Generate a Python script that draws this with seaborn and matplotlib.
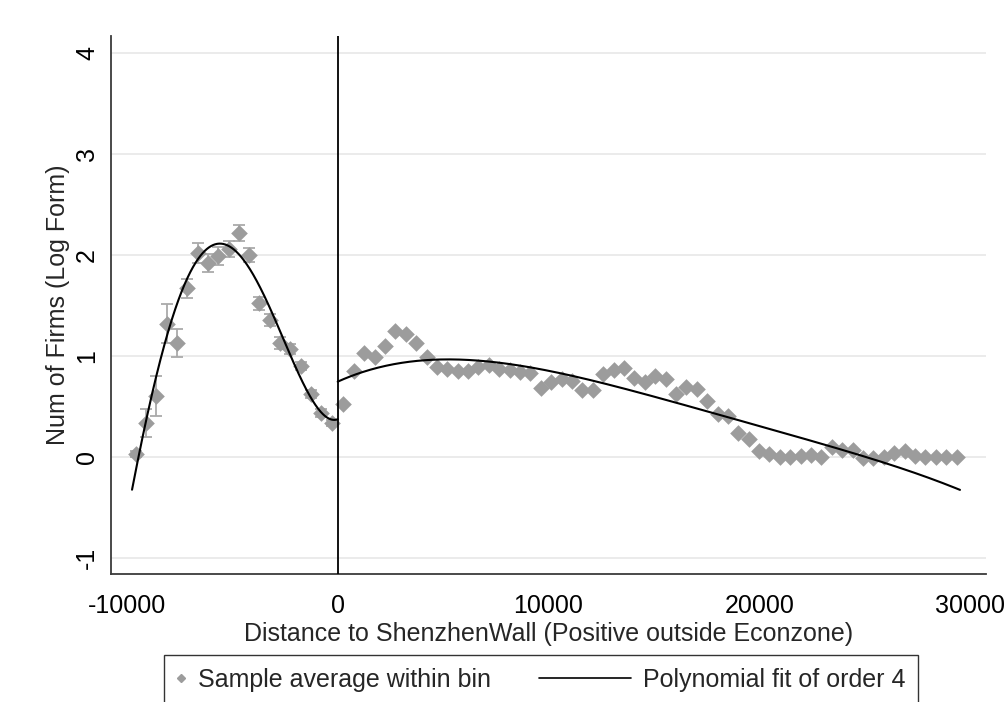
import numpy as np
import pandas as pd
import matplotlib
matplotlib.use("Agg")
import matplotlib.pyplot as plt
import seaborn as sns
from matplotlib.lines import Line2D
from matplotlib.legend_handler import HandlerBase

# ---- data ----
left_x = [-9590, -9100, -8610, -8120, -7630, -7140, -6650, -6160, -5670, -5180,
          -4690, -4200, -3710, -3220, -2730, -2240, -1750, -1260, -770, -280]
left_y = [0.03, 0.335, 0.605, 1.32, 1.13, 1.67, 2.02, 1.92, 1.99, 2.06,
          2.22, 2.00, 1.52, 1.36, 1.13, 1.07, 0.90, 0.625, 0.44, 0.34]
left_err = [0.03, 0.14, 0.20, 0.19, 0.135, 0.095, 0.10, 0.085, 0.09, 0.08,
            0.08, 0.07, 0.065, 0.06, 0.06, 0.05, 0.04, 0.04, 0.04, 0.03]

right_x = [270, 763, 1256, 1749, 2242, 2735, 3228, 3721, 4214, 4707,
           5200, 5693, 6186, 6679, 7172, 7665, 8158, 8651, 9144, 9637,
           10130, 10623, 11116, 11609, 12102, 12595, 13088, 13581, 14074, 14567,
           15060, 15553, 16046, 16539, 17032, 17525, 18018, 18511, 19004, 19497,
           19990, 20483, 20976, 21469, 21962, 22455, 22948, 23441, 23934, 24427,
           24920, 25413, 25906, 26399, 26892, 27385, 27878, 28371, 28864, 29357]
right_y = [0.53, 0.85, 1.03, 0.99, 1.10, 1.25, 1.22, 1.13, 0.99, 0.89,
           0.87, 0.85, 0.85, 0.89, 0.91, 0.87, 0.86, 0.84, 0.83, 0.68,
           0.74, 0.77, 0.75, 0.66, 0.66, 0.82, 0.86, 0.88, 0.78, 0.74,
           0.80, 0.77, 0.625, 0.69, 0.67, 0.56, 0.43, 0.41, 0.24, 0.18,
           0.06, 0.03, 0.005, 0.0, 0.01, 0.02, 0.005, 0.10, 0.07, 0.07,
           -0.01, -0.01, 0.005, 0.045, 0.065, 0.01, 0.0, 0.0, 0.0, 0.0]

# points read on the fitted order-4 curves
fitL_x = [-9756, -8083, -7087, -5583, -4127, -2737, -1708, -731, 0]
fitL_y = [-0.324, 1.225, 1.785, 2.089, 1.884, 1.225, 0.764, 0.434, 0.375]
fitR_x = [0, 1215, 2800, 4222, 5958, 7225, 9280, 11337, 14815, 17979, 22405, 25569, 29520]
fitR_y = [0.747, 0.83, 0.94, 0.968, 0.96, 0.955, 0.88, 0.764, 0.615, 0.45, 0.163, -0.044, -0.318]

y_ticks = [-1, 0, 1, 2, 3, 4]
x_ticks = [-10000, 0, 10000, 20000, 30000]
x_label = "Distance to ShenzhenWall (Positive outside Econzone)"
y_label = "Num of Firms (Log Form)"
leg_labels = ["Sample average within bin", "Polynomial fit of order 4"]

# ---- styling ----
sns.set_style("white")
plt.rcParams["font.family"] = ["Liberation Sans", "DejaVu Sans"]
FS = 18
PT_GRAY = "#9c9c9c"
ERR_GRAY = "#aaaaaa"
SPINE = "#3a3a3a"

W, H = 1007, 702
fig = plt.figure(figsize=(W / 100, H / 100), dpi=100)
ax = fig.add_axes([111 / W, 1 - 574 / H, (986 - 111) / W, (574 - 36) / H])

bins = pd.DataFrame({"x": left_x + right_x, "y": left_y + right_y})

def poly_curve(xs, ys, n=400):
    c = np.polyfit(xs, ys, 4)
    gx = np.linspace(min(xs), max(xs), n)
    return pd.DataFrame({"x": gx, "y": np.polyval(c, gx)})

fitL = poly_curve(fitL_x, fitL_y)
fitR = poly_curve(fitR_x, fitR_y)

# gridlines
for t in y_ticks:
    ax.axhline(t, color="#e8e8e8", lw=1.2, zorder=0)

ax.errorbar(left_x, left_y, yerr=left_err, fmt="none", ecolor=ERR_GRAY,
            elinewidth=1.3, capsize=4, capthick=1.3, zorder=2)
sns.scatterplot(data=bins, x="x", y="y", marker="D", s=72, color=PT_GRAY,
                linewidth=0, ax=ax, zorder=3, legend=False)
sns.lineplot(data=fitL, x="x", y="y", color="black", lw=1.5, ax=ax, zorder=4, legend=False)
sns.lineplot(data=fitR, x="x", y="y", color="black", lw=1.5, ax=ax, zorder=4, legend=False)
ax.axvline(0, color="black", lw=1.3, zorder=5)

ax.set_xlim(-10754, 30754)
ax.set_ylim(-1.155, 4.165)
ax.set_xticks(x_ticks)
ax.set_yticks(y_ticks)
ax.set_xticklabels([str(v) for v in x_ticks])
ax.set_yticklabels([str(v) for v in y_ticks], rotation=90, va="center")
ax.tick_params(axis="both", direction="out", length=7, width=1.1, color=SPINE,
               labelsize=FS, labelcolor="black")
ax.tick_params(axis="x", pad=7.5)
ax.tick_params(axis="y", pad=1.5)
for s in ["top", "right"]:
    ax.spines[s].set_visible(False)
for s in ["left", "bottom"]:
    ax.spines[s].set_color(SPINE)
    ax.spines[s].set_linewidth(1.3)
ax.set_xlabel(x_label, fontsize=FS, labelpad=3)
ax.set_ylabel(y_label, fontsize=FS)
ax.yaxis.set_label_coords(-0.047, 0.5)

# ---- legend ----
class MarkerHandler(HandlerBase):
    def create_artists(self, legend, orig_handle, xdescent, ydescent, width, height, fontsize, trans):
        m = Line2D([-xdescent + 3.2], [(height - ydescent) / 2], marker="D",
                   markersize=4, color=PT_GRAY, linestyle="none", transform=trans)
        return [m]

class LongLineHandler(HandlerBase):
    def create_artists(self, legend, orig_handle, xdescent, ydescent, width, height, fontsize, trans):
        x1 = -xdescent + width - 7.2
        x0 = x1 - 66
        y = (height - ydescent) / 2
        ln = Line2D([x0, x1], [y, y], color="black", lw=1.2, transform=trans)
        return [ln]

h1 = Line2D([], [], marker="D", color=PT_GRAY, linestyle="none")
h2 = Line2D([], [], color="black")
leg = fig.legend([h1, h2], leg_labels, loc="upper left",
                 bbox_to_anchor=(164 / W, 1 - 655 / H), ncol=2, fontsize=FS,
                 handler_map={h1: MarkerHandler(), h2: LongLineHandler()},
                 handlelength=0.8, handletextpad=0.08, columnspacing=5.17,
                 borderpad=0.5, borderaxespad=0, fancybox=False, frameon=True)
fr = leg.get_frame()
fr.set_edgecolor("black")
fr.set_linewidth(1.0)

fig.savefig("out.png", dpi=100, facecolor="white")
